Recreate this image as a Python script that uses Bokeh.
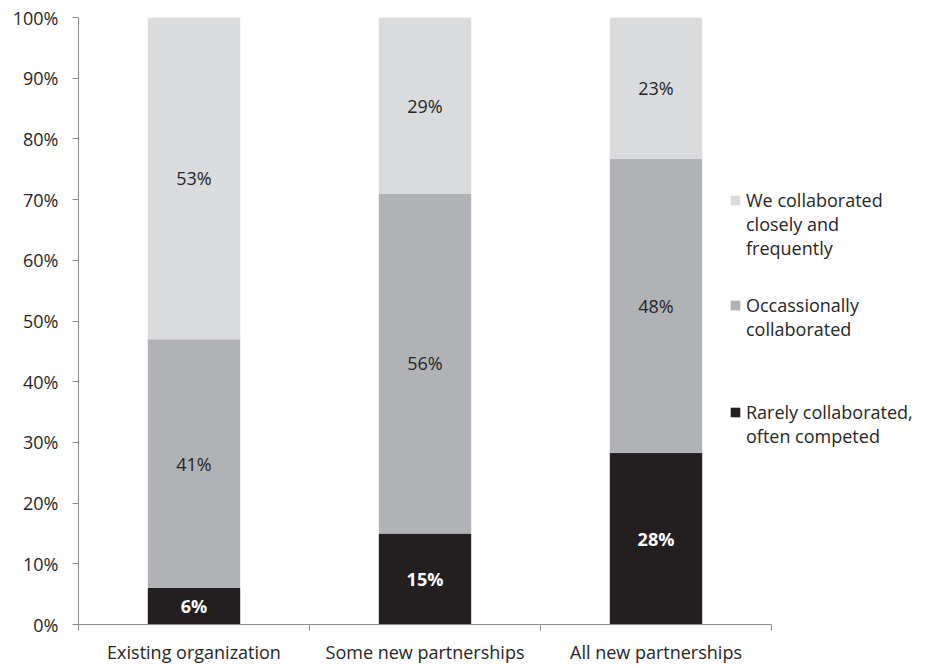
from bokeh.plotting import figure
from bokeh.models import Range1d, FixedTicker, ColumnDataSource, Legend, LegendItem
from bokeh.core.properties import value
from bokeh.embed import file_html
from bokeh.resources import INLINE

categories = ["Existing organization", "Some new partnerships", "All new partnerships"]
rarely = [6, 15, 28.3]
occasionally = [41, 56, 48.4]
closely = [53, 29, 23.3]
series_names = [["We collaborated", "closely and", "frequently"],
                ["Occassionally", "collaborated"],
                ["Rarely collaborated,", "often competed"]]
y_ticks = list(range(0, 101, 10))

FONT = "Open Sans"
FS = 18
DARK, MID, LIGHT = "#231f20", "#b1b2b5", "#dadbdd"
AXIS = "#8c8c8c"
TXT = "#262626"

W, H = 917, 666
LEFT, TOP, BOTTOM = 78, 17, 41
FRAME_W = W - LEFT
CAT_PX = 231  # width of one category slot in pixels

p = figure(width=W, height=H, x_range=Range1d(0, FRAME_W / CAT_PX), y_range=Range1d(0, 100),
           output_backend="svg", toolbar_location=None,
           min_border_left=LEFT, min_border_right=0, min_border_top=TOP, min_border_bottom=BOTTOM)
p.outline_line_color = None
p.grid.visible = False
p.background_fill_color = "white"

xs = [i + 0.5 for i in range(len(categories))]
src = ColumnDataSource(dict(x=xs, r=rarely, o=occasionally, c=closely))
rs = p.vbar_stack(["r", "o", "c"], x="x", width=0.4, source=src,
                  color=[DARK, MID, LIGHT], line_color=None)

# labels inside bars
lx, ly, lt, lc, lw = [], [], [], [], []
for i, xv in enumerate(xs):
    bottom = 0
    for vals, col, wt in ((rarely, "white", "bold"), (occasionally, TXT, "normal"), (closely, TXT, "normal")):
        v = vals[i]
        lx.append(xv); ly.append(bottom + v / 2); lt.append(f"{round(v)}%")
        lc.append(col); lw.append(wt)
        bottom += v
lsrc = ColumnDataSource(dict(x=lx, y=ly, t=lt, c=lc, w=lw))
p.text(x="x", y="y", text="t", source=lsrc, text_color="c", text_font_style="w",
       text_align="center", text_baseline="middle", text_font=value(FONT), text_font_size=f"{FS}px")

# y axis
ya = p.yaxis[0]
ya.ticker = FixedTicker(ticks=y_ticks)
ya.major_label_overrides = {t: f"{t}%" for t in y_ticks}
ya.axis_line_color = AXIS
ya.major_tick_line_color = AXIS
ya.major_tick_out = 6
ya.major_tick_in = 0
ya.minor_tick_line_color = None
ya.major_label_standoff = 14
ya.major_label_text_font = FONT
ya.major_label_text_font_size = f"{FS}px"
ya.major_label_text_color = TXT

# x axis (limited to the category slots)
xa = p.xaxis[0]
xa.bounds = (0, len(categories))
xa.ticker = FixedTicker(ticks=xs, minor_ticks=list(range(len(categories) + 1)))
xa.major_label_overrides = {xv: c for xv, c in zip(xs, categories)}
xa.axis_line_color = AXIS
xa.major_tick_line_color = None
xa.major_tick_out = 0
xa.major_tick_in = 0
xa.minor_tick_line_color = AXIS
xa.minor_tick_out = 6
xa.minor_tick_in = 0
xa.major_label_standoff = 9
xa.major_label_text_font = FONT
xa.major_label_text_font_size = f"{FS}px"
xa.major_label_text_color = TXT

# legends: one per series, glyph aligned with first text line
lh_px = 24
frame_bottom = H - BOTTOM
square_centers = [201, 306, 413]  # page y of each legend square
for lines, r, cy in zip(series_names, [rs[2], rs[1], rs[0]], square_centers):
    n = len(lines)
    label = "\n" * (n - 1) + "\n".join(lines)
    total = (2 * n - 1) * lh_px
    loc_y = frame_bottom - (cy + total / 2)
    lg = Legend(items=[LegendItem(label=label, renderers=[r])], location=(651, loc_y))
    lg.border_line_color = None
    lg.background_fill_alpha = 0
    lg.padding = 0
    lg.margin = 0
    lg.glyph_width = 12
    lg.glyph_height = 12
    lg.label_standoff = 5
    lg.label_text_font = FONT
    lg.label_text_font_size = f"{FS}px"
    lg.label_text_color = TXT
    p.add_layout(lg, "center")

open("out.html", "w").write(file_html(p, INLINE))
